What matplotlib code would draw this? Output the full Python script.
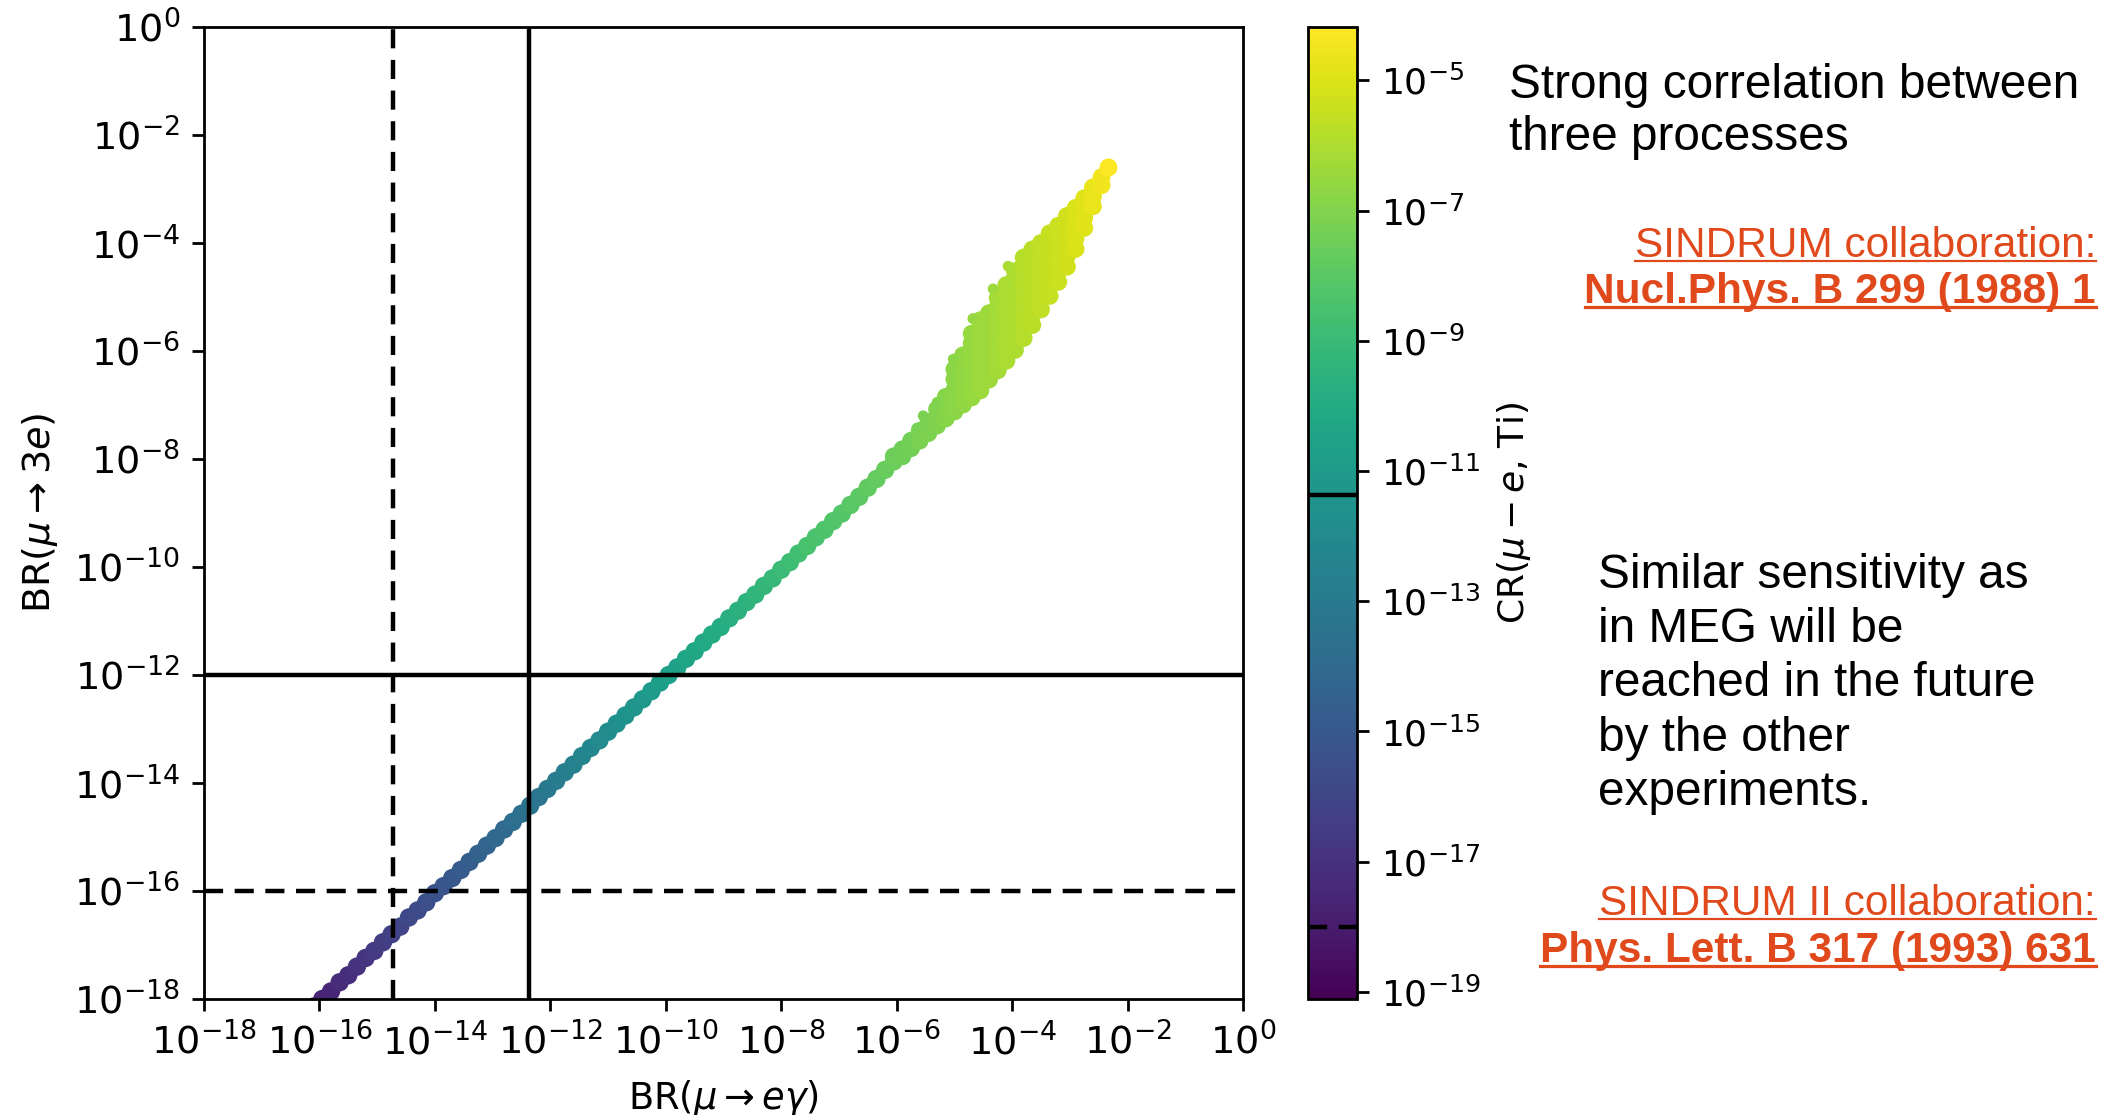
import matplotlib
matplotlib.use("Agg")
import matplotlib.pyplot as plt
import numpy as np
from matplotlib.colors import LogNorm
from matplotlib.lines import Line2D

# log10 values: BR(mu -> e gamma), BR(mu -> 3e), CR(mu - e, Ti) along the narrow band
band_eg = [-16.40, -16.25, -16.10, -15.95, -15.80, -15.65, -15.50, -15.35, -15.20, -15.05,
           -14.90, -14.75, -14.60, -14.45, -14.30, -14.15, -14.00, -13.85, -13.70, -13.55,
           -13.40, -13.25, -13.10, -12.95, -12.80, -12.65, -12.50, -12.35, -12.20, -12.05,
           -11.90, -11.75, -11.60, -11.45, -11.30, -11.15, -11.00, -10.85, -10.70, -10.55,
           -10.40, -10.25, -10.10, -9.95, -9.80, -9.65, -9.50, -9.35, -9.20, -9.05,
           -8.90, -8.75, -8.60, -8.45, -8.30, -8.15, -8.00, -7.85, -7.70, -7.55,
           -7.40, -7.25, -7.10, -6.95, -6.80, -6.65, -6.50, -6.35, -6.20]
band_3e = [-18.45, -18.31, -18.14, -18.00, -17.86, -17.69, -17.56, -17.40, -17.24, -17.11,
           -16.95, -16.80, -16.66, -16.49, -16.36, -16.21, -16.04, -15.91, -15.76, -15.61,
           -15.46, -15.31, -15.16, -15.02, -14.86, -14.72, -14.57, -14.42, -14.26, -14.11,
           -13.96, -13.80, -13.66, -13.50, -13.35, -13.21, -13.05, -12.90, -12.75, -12.60,
           -12.45, -12.30, -12.14, -12.00, -11.86, -11.70, -11.56, -11.40, -11.25, -11.11,
           -10.95, -10.81, -10.65, -10.51, -10.35, -10.21, -10.05, -9.91, -9.75, -9.61,
           -9.45, -9.31, -9.15, -9.01, -8.85, -8.70, -8.53, -8.37, -8.20]
band_cr = [-18.20, -18.00, -17.85, -17.65, -17.50, -17.30, -17.15, -16.95, -16.80, -16.60,
           -16.45, -16.25, -16.10, -15.90, -15.75, -15.55, -15.40, -15.20, -15.05, -14.85,
           -14.70, -14.50, -14.35, -14.15, -14.00, -13.80, -13.65, -13.45, -13.30, -13.10,
           -12.95, -12.75, -12.60, -12.40, -12.25, -12.05, -11.90, -11.70, -11.55, -11.35,
           -11.20, -11.00, -10.85, -10.70, -10.55, -10.40, -10.30, -10.15, -10.00, -9.90,
           -9.75, -9.60, -9.50, -9.35, -9.20, -9.10, -8.95, -8.80, -8.70, -8.55,
           -8.45, -8.35, -8.25, -8.15, -8.05, -7.95, -7.85, -7.75, -7.65]

# wide part of the band at large BR: one column of BR(mu -> 3e) values per BR(mu -> e gamma)
wide_eg = [-6.05, -5.90, -5.75, -5.60, -5.45, -5.30, -5.15, -5.00, -4.85, -4.70,
           -4.55, -4.40, -4.25, -4.10, -3.95, -3.80, -3.65, -3.50, -3.35, -3.20,
           -3.05, -2.90, -2.75, -2.60, -2.45, -2.33]
wide_3e = [[-8.05, -7.95],
           [-7.95, -7.82],
           [-7.80, -7.66],
           [-7.66, -7.48],
           [-7.52, -7.32],
           [-7.38, -7.20, -7.08],
           [-7.25, -7.05, -6.85],
           [-7.12, -6.92, -6.72, -6.52, -6.34],
           [-6.99, -6.79, -6.59, -6.39, -6.21, -6.08],
           [-6.86, -6.66, -6.46, -6.26, -6.06, -5.86, -5.68],
           [-6.73, -6.53, -6.33, -6.13, -5.93, -5.73, -5.55, -5.43],
           [-6.53, -6.33, -6.13, -5.93, -5.73, -5.52, -5.30],
           [-6.36, -6.16, -5.96, -5.76, -5.56, -5.36, -5.18, -5.02],
           [-6.18, -5.98, -5.78, -5.58, -5.38, -5.18, -4.98, -4.78],
           [-5.98, -5.78, -5.58, -5.38, -5.18, -4.98, -4.80, -4.64, -4.52],
           [-5.76, -5.56, -5.36, -5.16, -4.96, -4.76, -4.56, -4.40, -4.27],
           [-5.52, -5.32, -5.12, -4.92, -4.72, -4.52, -4.32, -4.12],
           [-5.23, -5.03, -4.83, -4.63, -4.43, -4.23, -4.00],
           [-4.98, -4.78, -4.58, -4.38, -4.18, -3.98, -3.82],
           [-4.72, -4.52, -4.32, -4.12, -3.90, -3.68],
           [-4.44, -4.24, -4.04, -3.84, -3.66, -3.50],
           [-4.11, -3.91, -3.71, -3.52, -3.35],
           [-3.72, -3.53, -3.34, -3.17],
           [-3.32, -3.14, -2.97],
           [-2.93, -2.78],
           [-2.60]]
wide_cr = [-7.55, -7.45, -7.35, -7.20, -7.10, -7.00, -6.90, -6.80, -6.65, -6.55,
           -6.45, -6.35, -6.20, -6.10, -6.00, -5.85, -5.75, -5.60, -5.50, -5.35,
           -5.25, -5.05, -4.90, -4.70, -4.50, -4.20]

# loose points along the upper edge of the wide part
stray_eg = [-5.99, -5.65, -5.54, -5.30, -5.02, -4.68, -4.33, -4.07, -4.07]
stray_3e = [-7.90, -7.43, -7.20, -6.95, -6.15, -5.40, -4.85, -4.75, -4.43]
stray_cr = [-7.50, -7.25, -7.20, -7.00, -6.80, -6.55, -6.35, -6.10, -6.10]

# current limits (solid) and expected sensitivities (dashed)
meg_limit, meg_future = 4.2e-13, 1.9e-15
mu3e_limit, mu3e_future = 1e-12, 1e-16
ti_limit, ti_future = 4.3e-12, 1e-18
cr_min, cr_max = 10 ** -19.11, 10 ** -4.18

W, H = 2103, 1115
plt.rcParams['font.size'] = 27
fig = plt.figure(figsize=(W / 100, H / 100), dpi=100)
ax = fig.add_axes([204 / W, 1 - 999 / H, 1039 / W, 972 / H])
cax = fig.add_axes([1308 / W, 1 - 999 / H, 49 / W, 972 / H])

norm = LogNorm(cr_min, cr_max)
wx = np.concatenate([[e] * len(col) for e, col in zip(wide_eg, wide_3e)])
wy = np.concatenate(wide_3e)
wc = np.concatenate([[c] * len(col) for c, col in zip(wide_cr, wide_3e)])

sc = ax.scatter(10.0 ** np.array(band_eg), 10.0 ** np.array(band_3e), c=10.0 ** np.array(band_cr),
                cmap='viridis', norm=norm, s=175, linewidths=0)
ax.scatter(10.0 ** wx, 10.0 ** wy, c=10.0 ** wc, cmap='viridis', norm=norm, s=165, linewidths=0)
ax.scatter(10.0 ** np.array(stray_eg), 10.0 ** np.array(stray_3e), c=10.0 ** np.array(stray_cr),
           cmap='viridis', norm=norm, s=60, linewidths=0)

dash = (0, (4.3, 2.6))
ax.axvline(meg_limit, color='k', lw=3.2, zorder=3)
ax.axvline(meg_future, color='k', lw=3.2, ls=dash, zorder=3)
ax.axhline(mu3e_limit, color='k', lw=3.2, zorder=3)
ax.axhline(mu3e_future, color='k', lw=3.2, ls=dash, zorder=3)

ax.set_xscale('log')
ax.set_yscale('log')
ax.set_xlim(1e-18, 1)
ax.set_ylim(1e-18, 1)
ax.set_xticks([10.0 ** k for k in range(-18, 1, 2)])
ax.set_yticks([10.0 ** k for k in range(-18, 1, 2)])
ax.minorticks_off()
ax.tick_params(length=8.6, width=2, pad=8.6, labelsize=27.5)
for sp in ax.spines.values():
    sp.set_linewidth(2)
ax.set_xlabel(r'BR($\mu \rightarrow e\gamma$)', fontsize=26.5, labelpad=11)
ax.set_ylabel(r'BR($\mu \rightarrow 3e$)', fontsize=27.5, labelpad=10)

cbar = fig.colorbar(sc, cax=cax)
cbar.set_ticks([10.0 ** k for k in range(-19, -4, 2)])
cbar.ax.minorticks_off()
cbar.ax.tick_params(length=8.6, width=2, pad=8.6, labelsize=26)
cbar.outline.set_linewidth(2)
cbar.ax.axhline(ti_limit, color='k', lw=3.2)
cbar.ax.axhline(ti_future, color='k', lw=3.2, ls=dash)
cbar.set_label(r'CR($\mu - e$, Ti)', fontsize=26, labelpad=10)

orange = '#e0491b'
notes = []


def note(x, y, s, size, color='black', weight='normal', ha='left', underline=0):
    t = fig.text(x / W, 1 - y / H, s, fontsize=size, color=color, fontweight=weight,
                 ha=ha, va='baseline', family=['Liberation Sans', 'DejaVu Sans'])
    notes.append((t, y, underline, color))


note(1509, 98, 'Strong correlation between', 34.4)
note(1509, 150, 'three processes', 34.4)
note(2096, 257, 'SINDRUM collaboration:', 30.5, orange, ha='right', underline=2.2)
note(2096, 303, 'Nucl.Phys. B 299 (1988) 1', 30.5, orange, 'bold', 'right', underline=3.2)
for i, line in enumerate(['Similar sensitivity as', 'in MEG will be',
                          'reached in the future', 'by the other', 'experiments.']):
    note(1598, 588 + 54.2 * i, line, 34.4)
note(2096, 915, 'SINDRUM II collaboration:', 30.5, orange, ha='right', underline=2.2)
note(2096, 962, 'Phys. Lett. B 317 (1993) 631', 30.5, orange, 'bold', 'right', underline=3.2)

fig.canvas.draw()
for t, y, lw, color in notes:
    if not lw:
        continue
    bb = t.get_window_extent()
    yl = 1 - (y + 4) / H
    fig.add_artist(Line2D([bb.x0 / W, bb.x1 / W], [yl, yl], transform=fig.transFigure,
                          color=color, lw=lw * 72 / 100))

fig.savefig('out.png', dpi=100)
